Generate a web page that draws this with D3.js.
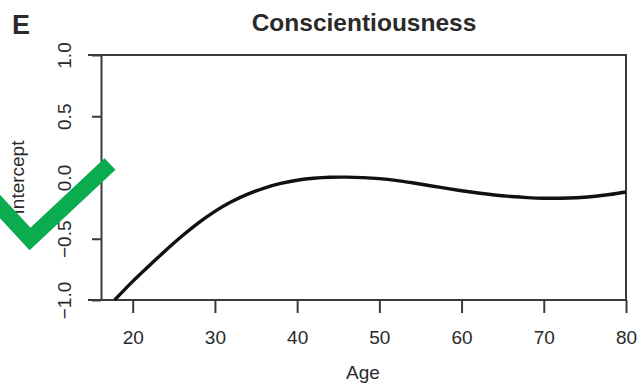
<!DOCTYPE html>
<html>
<head>
<meta charset="utf-8">
<script src="https://cdn.jsdelivr.net/npm/d3@7"></script>
<style>
    body { margin: 0; background: #fff; }
    svg text { font-family: "Liberation Sans", Arial, sans-serif; fill: #2a2a2a; }
</style>
</head>
<body>
<svg></svg>
<script>
// values
let ages = [17.8, 20, 22, 24, 26, 28, 30, 32, 34, 36, 38, 40, 42, 44, 46, 48, 50,
    52, 54, 56, 58, 60, 62, 64, 66, 68, 70, 72, 74, 76, 78, 80];
let intercept = [-1.0, -0.848, -0.72, -0.596, -0.478, -0.37, -0.276, -0.198, -0.136, -0.086,
    -0.048, -0.022, -0.006, 0.002, 0.003, -0.001, -0.009, -0.023, -0.043, -0.065,
    -0.087, -0.108, -0.127, -0.143, -0.155, -0.164, -0.169, -0.169, -0.165, -0.155,
    -0.139, -0.118];
let xTicks = [20, 30, 40, 50, 60, 70, 80];
let yTicks = [-1, -0.5, 0, 0.5, 1];
let title = "Conscientiousness";
let panel = "E";

let width = 641,
    height = 385;

let svg = d3.select('svg')
    .attr('width', width)
    .attr('height', height);

let x = d3.scaleLinear()
    .domain([20, 80])
    .range([132.7, 626]);

let y = d3.scaleLinear()
    .domain([-1, 1])
    .range([300, 55]);

let axisColor = '#3a3a3a';

// frame: top and bottom run a little past the y axis, like the original
let frameLeft = 88;
svg.append('path')
    .attr('d', `M${frameLeft},${y(1)}H${x(80)}V${y(-1)}H${frameLeft}`)
    .attr('fill', 'none')
    .attr('stroke', axisColor)
    .attr('stroke-width', 2);

// x axis
let xAxis = svg.append('g')
    .attr('transform', `translate(0,${y(-1)})`)
    .call(d3.axisBottom(x).tickValues(xTicks).tickSizeInner(13).tickSizeOuter(0).tickPadding(18));
xAxis.select('.domain').remove();
xAxis.selectAll('line').attr('stroke', axisColor).attr('stroke-width', 2);
xAxis.selectAll('text').style('font-size', '19px').attr('fill', '#2a2a2a');

// y axis
let yLeft = 101;
let yAxis = svg.append('g')
    .attr('transform', `translate(${yLeft},0)`)
    .call(d3.axisLeft(y).tickValues(yTicks).tickSizeInner(9).tickSizeOuter(0)
        .tickFormat(d3.format('.1f')));
yAxis.select('.domain')
    .attr('stroke', axisColor)
    .attr('stroke-width', 2);
yAxis.selectAll('line').attr('stroke', axisColor).attr('stroke-width', 2);
yAxis.selectAll('text')
    .style('font-size', '19px')
    .attr('fill', '#2a2a2a')
    .attr('text-anchor', 'middle')
    .attr('x', null)
    .attr('dy', null)
    .attr('transform', 'translate(-30,0) rotate(-90)');

// the curve
let line = d3.line()
    .x((d, i) => x(ages[i]))
    .y(d => y(d))
    .curve(d3.curveNatural);

svg.append('path')
    .datum(intercept)
    .attr('d', line)
    .attr('fill', 'none')
    .attr('stroke', '#111')
    .attr('stroke-width', 3.4);

// texts
svg.append('text')
    .attr('x', 364)
    .attr('y', 31)
    .attr('text-anchor', 'middle')
    .style('font-size', '24.5px')
    .style('font-weight', 'bold')
    .text(title);

svg.append('text')
    .attr('x', 12)
    .attr('y', 34)
    .style('font-size', '27px')
    .style('font-weight', 'bold')
    .attr('fill', '#111')
    .text(panel);

svg.append('text')
    .attr('x', 363)
    .attr('y', 379)
    .attr('text-anchor', 'middle')
    .style('font-size', '19px')
    .text('Age');

svg.append('text')
    .attr('transform', `translate(24,${y(0)}) rotate(-90)`)
    .attr('text-anchor', 'middle')
    .style('font-size', '19px')
    .text('Intercept');

// green check mark overlay from the picture
svg.append('path')
    .attr('d', 'M-6,200L30,239L110,164')
    .attr('fill', 'none')
    .attr('stroke', '#0bab4f')
    .attr('stroke-width', 16)
    .attr('stroke-linejoin', 'miter');
</script>
</body>
</html>
